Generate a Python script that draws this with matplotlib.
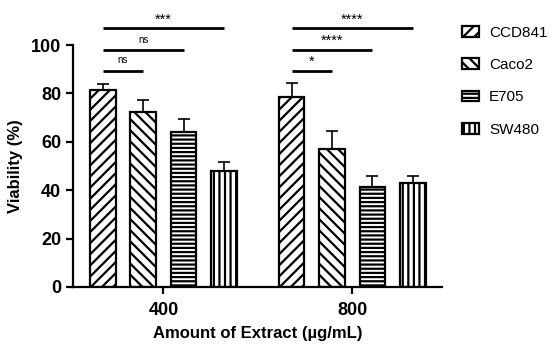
import matplotlib
matplotlib.use("Agg")
import matplotlib.pyplot as plt
import numpy as np

plt.rcParams.update({
    "font.family": ["Liberation Sans", "DejaVu Sans"],
    "hatch.linewidth": 1.6,
    "axes.linewidth": 1.6,
})

# data
doses = ["400", "800"]
lines = ["CCD841", "Caco2", "E705", "SW480"]
viability = {
    "CCD841": [81.4, 78.6],
    "Caco2": [72.2, 57.0],
    "E705": [63.9, 41.2],
    "SW480": [47.9, 42.9],
}
err_up = {
    "CCD841": [2.5, 5.6],
    "Caco2": [5.1, 7.5],
    "E705": [5.4, 4.8],
    "SW480": [3.6, 3.1],
}
hatches = ["///", "\\\\\\", "----", "|||"]

# significance brackets: (group, from bar, to bar, height, label)
sig = [
    (0, 0, 1, 89.4, "ns"),
    (0, 0, 2, 97.9, "ns"),
    (0, 0, 3, 106.9, "***"),
    (1, 0, 1, 89.4, "*"),
    (1, 0, 2, 97.9, "****"),
    (1, 0, 3, 106.9, "****"),
]

fig = plt.figure(figsize=(5.55, 3.44), dpi=100)
ax = fig.add_axes([0.1315, 0.1657, 0.6645, 0.7033])

x = np.arange(len(doses))
step = 0.214
width = 0.135
offsets = (np.arange(len(lines)) - 1.5) * step

for i, name in enumerate(lines):
    pos = x + offsets[i]
    ax.bar(pos, viability[name], width, facecolor="white", edgecolor="black",
           linewidth=1.6, hatch=hatches[i], label=name, zorder=2)
    ax.errorbar(pos, viability[name], yerr=[[0, 0], err_up[name]], fmt="none",
                ecolor="black", elinewidth=1.2, capsize=4.5, capthick=1.2, zorder=3)

for g, a, b, h, lab in sig:
    x0 = x[g] + offsets[a]
    x1 = x[g] + offsets[b]
    ax.plot([x0, x1], [h, h], color="black", linewidth=2, clip_on=False,
            solid_capstyle="butt")
    fs = 7 if lab == "ns" else 10.5
    dy = 2.2 if lab == "ns" else 0.8
    ax.text((x0 + x1) / 2, h + dy, lab, ha="center", va="bottom", fontsize=fs,
            clip_on=False)

ax.set_xlim(-0.479, 1.474)
ax.set_ylim(0, 100)
ax.set_yticks([0, 20, 40, 60, 80, 100])
ax.set_xticks(x)
ax.set_xticklabels(doses)
ax.spines["top"].set_visible(False)
ax.spines["right"].set_visible(False)
ax.tick_params(axis="both", width=1.6, length=5, labelsize=13)
ax.tick_params(axis="x", pad=6)
for t in ax.get_xticklabels() + ax.get_yticklabels():
    t.set_fontweight("bold")

ax.set_xlabel("Amount of Extract (\u00b5g/mL)", fontsize=12, fontweight="bold",
              labelpad=5)
ax.set_ylabel("Viability (%)", fontsize=12, fontweight="bold", labelpad=6)

ax.legend(loc="upper left", bbox_to_anchor=(0.808, 0.965),
          bbox_transform=fig.transFigure, frameon=False, fontsize=11,
          handlelength=1.1, handleheight=0.7, labelspacing=1.2,
          handletextpad=0.65)

fig.savefig("out.png", dpi=100)
